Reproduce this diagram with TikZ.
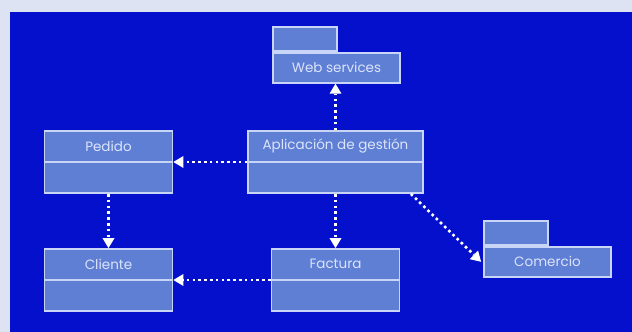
\documentclass[tikz,border=0pt]{standalone}
\usepackage{fontspec}
\setmainfont{Poppins}
\usetikzlibrary{arrows.meta,calc}
\definecolor{margin}{HTML}{DDE3F3}
\definecolor{bgblue}{HTML}{0410CC}
\definecolor{boxfill}{HTML}{5E7FD4}
\definecolor{boxline}{HTML}{C9D5F7}
\definecolor{txt}{HTML}{DCE4FA}
\tikzset{
  classbox/.style={draw=boxline, fill=boxfill, line width=1.8pt, minimum width=128pt, minimum height=62pt, inner sep=0pt},
  appbox/.style={classbox, minimum width=175pt},
  tabbox/.style={draw=boxline, fill=boxfill, line width=1.8pt, minimum width=64pt, minimum height=24pt, inner sep=0pt},
  pkgbox/.style={draw=boxline, fill=boxfill, line width=1.8pt, minimum width=127pt, minimum height=30pt, inner sep=0pt},
  lbl/.style={text=txt, font=\fontsize{13.5}{15}\selectfont, inner sep=0pt},
  divider/.style={draw=boxline, line width=1.8pt},
  dep/.style={draw=white, line width=2.6pt, dash pattern=on 2.6pt off 3.2pt, -{Triangle[width=12pt,length=10pt,fill=white,line width=0pt]}, shorten >=0pt},
}
\begin{document}
\begin{tikzpicture}[x=1pt,y=-1pt]
\useasboundingbox (0,0) rectangle (632,332);
\fill[margin] (0,0) rectangle (632,332);
\fill[bgblue] (10,12) rectangle (632,332);
% class boxes
\node[classbox] (pedido) at (108.5,162) {};
\node[appbox] (app) at (335.5,162) {};
\node[classbox] (cliente) at (108.5,280) {};
\node[classbox] (factura) at (335.5,280) {};
\foreach \n in {pedido,app,cliente,factura}{\draw[divider] (\n.west) -- (\n.east);}
\node[lbl] (tpedido) at ($(pedido.north)!0.5!(pedido.center)$) {Pedido};
\node[lbl] (tapp) at ($(app.north)!0.5!(app.center)$) {Aplicación de gestión};
\node[lbl] (tcliente) at ($(cliente.north)!0.5!(cliente.center)$) {Cliente};
\node[lbl] (tfactura) at ($(factura.north)!0.5!(factura.center)$) {Factura};
% packages
\node[tabbox] (webtab) at (305,39) {};
\node[pkgbox, anchor=north west] (web) at (webtab.south west) {};
\node[lbl] (tweb) at (web.center) {Web services};
\node[tabbox] (comtab) at (516,233) {};
\node[pkgbox, anchor=north west] (com) at (comtab.south west) {};
\node[lbl] (tcom) at (com.center) {Comercio};
% connectors
\coordinate (appse) at ($(app.south east)+(-13,0)$);
\draw[dep] (app.north) -- (app.north |- web.south);
\draw[dep] (app.west) -- (pedido.east);
\draw[dep] (app.south) -- (factura.north);
\draw[dep] (pedido.south) -- (cliente.north);
\draw[dep] (factura.west) -- (cliente.east);
\draw[dep] (appse) -- ($(com.west)+(-2,0)$);
\end{tikzpicture}
\end{document}
